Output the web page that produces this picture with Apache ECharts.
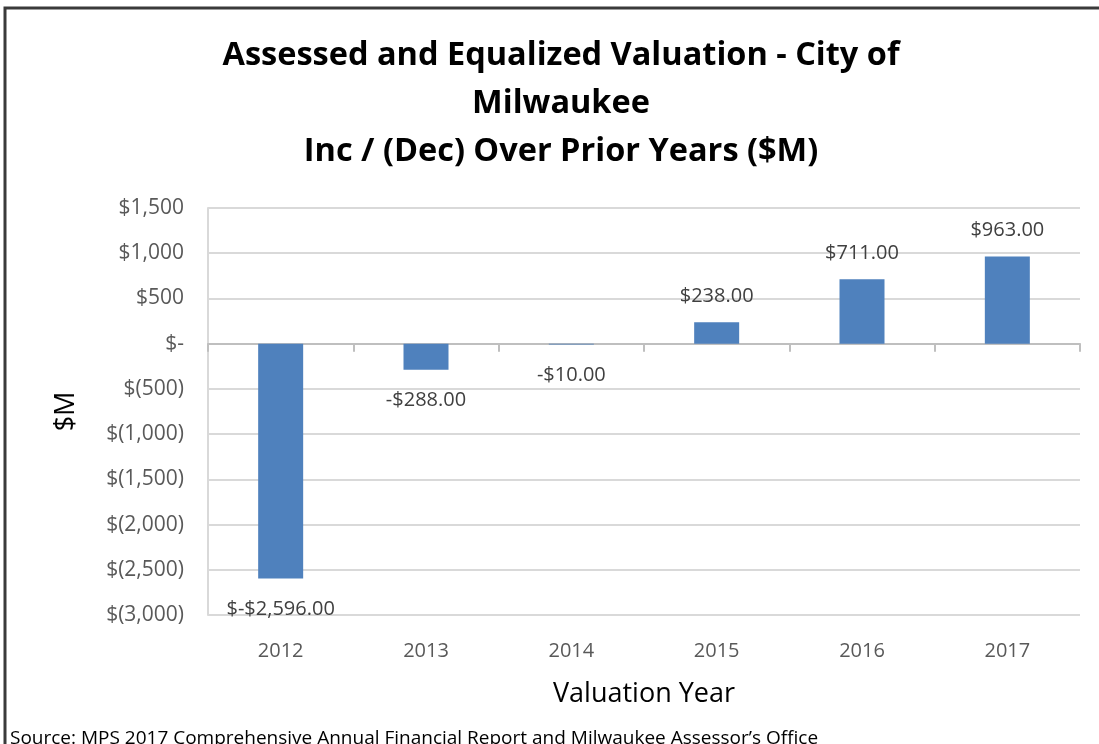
<!DOCTYPE html>
<html>
<head>
<meta charset="utf-8">
<script src="https://cdn.jsdelivr.net/npm/echarts@6/dist/echarts.min.js"></script>
<style>
  html, body { margin: 0; padding: 0; background: #fff; }
  #chart { width: 1099px; height: 744px; }
</style>
</head>
<body>
<div id="chart"></div>
<script>
// 数据
const years = ['2012', '2013', '2014', '2015', '2016', '2017'];
const changes = [-2596, -288, -10, 238, 711, 963];
const valueLabels = ['$-$2,596.00', '-$288.00', '-$10.00', '$238.00', '$711.00', '$963.00'];
const yTicks = [-3000, -2500, -2000, -1500, -1000, -500, 0, 500, 1000, 1500];

const titleText = 'Assessed and Equalized Valuation - City of\nMilwaukee\nInc / (Dec) Over Prior Years ($M)';
const sourceText = 'Source: MPS 2017 Comprehensive Annual Financial Report and Milwaukee Assessor\u2019s Office';

const font = '"Open Sans", "Liberation Sans", sans-serif';

function money(v) {
  if (v === 0) return '$-';
  const s = Math.abs(v).toLocaleString('en-US');
  return v < 0 ? '$(' + s + ')' : '$' + s;
}

const chart = echarts.init(document.getElementById('chart'));

chart.setOption({
  animation: false,
  grid: {
    left: 208,
    right: 19,
    top: 208,
    bottom: 129,
  },
  graphic: [
    {
      type: 'rect',
      shape: { x: 5, y: 8, width: 1200, height: 800 },
      style: { fill: 'none', stroke: '#3a3a3a', lineWidth: 3 },
    },
    {
      type: 'text',
      x: 561,
      y: 32,
      style: {
        text: titleText,
        textAlign: 'center',
        fill: '#000',
        font: 'bold 32.5px ' + font,
        lineHeight: 48,
      },
    },
    {
      type: 'text',
      x: 10,
      y: 729,
      style: {
        text: sourceText,
        fill: '#000',
        font: '19px ' + font,
      },
    },
  ],
  xAxis: [
    {
      type: 'category',
      data: years,
      position: 'bottom',
      axisLine: { show: false, onZero: false },
      axisTick: { show: false },
      axisLabel: {
        color: '#595959',
        fontSize: 20,
        fontFamily: font,
        margin: 26,
      },
      name: 'Valuation Year',
      nameLocation: 'middle',
      nameGap: 66,
      nameTextStyle: { color: '#000', fontSize: 27, fontFamily: font },
    },
    {
      type: 'category',
      data: years,
      position: 'top',
      axisLine: { show: true, onZero: true, lineStyle: { color: '#bfbfbf', width: 2 } },
      axisTick: { show: true, inside: true, length: 8, lineStyle: { color: '#bfbfbf', width: 2 } },
      axisLabel: { show: false },
    },
  ],
  yAxis: {
    type: 'value',
    min: yTicks[0],
    max: yTicks[yTicks.length - 1],
    interval: 500,
    axisLine: { show: true, lineStyle: { color: '#d9d9d9', width: 2 } },
    axisTick: { show: false },
    splitLine: { lineStyle: { color: '#d9d9d9', width: 2 } },
    axisLabel: {
      color: '#595959',
      fontSize: 21,
      fontFamily: font,
      margin: 24,
      formatter: money,
    },
    name: '$M',
    nameLocation: 'middle',
    nameGap: 128,
    nameRotate: 90,
    nameTextStyle: { color: '#000', fontSize: 27, fontFamily: font },
  },
  series: [
    {
      type: 'bar',
      xAxisIndex: 0,
      barWidth: 45,
      itemStyle: { color: '#4f81bd' },
      data: changes.map((v, i) => ({
        value: v,
        label: {
          show: true,
          position: v < 0 ? 'bottom' : 'top',
          distance: v < 0 ? 21 : 16,
          formatter: valueLabels[i],
          color: '#404040',
          fontSize: 20,
          fontFamily: font,
        },
      })),
    },
  ],
});
</script>
</body>
</html>
